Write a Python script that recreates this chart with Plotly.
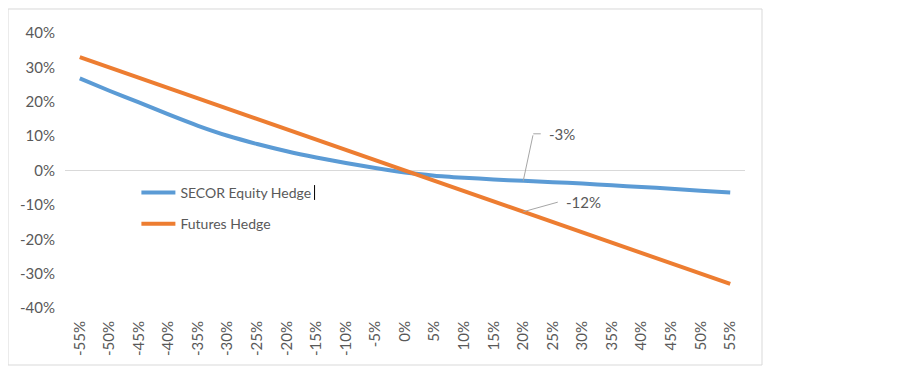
import plotly.graph_objects as go

# Data
market_moves = ["-55%", "-50%", "-45%", "-40%", "-35%", "-30%", "-25%", "-20%",
                "-15%", "-10%", "-5%", "0%", "5%", "10%", "15%", "20%", "25%",
                "30%", "35%", "40%", "45%", "50%", "55%"]
secor_equity_hedge = [0.268, 0.232, 0.198, 0.163, 0.130, 0.101, 0.077, 0.056,
                      0.038, 0.022, 0.007, -0.006, -0.015, -0.021, -0.026, -0.030,
                      -0.034, -0.038, -0.043, -0.048, -0.053, -0.059, -0.064]
futures_hedge = [0.33, 0.30, 0.27, 0.24, 0.21, 0.18, 0.15, 0.12, 0.09, 0.06, 0.03,
                 0.0, -0.03, -0.06, -0.09, -0.12, -0.15, -0.18, -0.21, -0.24,
                 -0.27, -0.30, -0.33]
y_ticks = [0.4, 0.3, 0.2, 0.1, 0.0, -0.1, -0.2, -0.3, -0.4]
y_tick_labels = ["40%", "30%", "20%", "10%", "0%", "-10%", "-20%", "-30%", "-40%"]
label_category = "20%"
label_secor = "-3%"
label_futures = "-12%"

FONT = "Lato"
TXT = "#595959"
BLUE = "#5B9BD5"
ORANGE = "#ED7D31"

fig = go.Figure()
fig.add_trace(go.Scatter(x=market_moves, y=secor_equity_hedge, mode="lines",
                         name="SECOR Equity Hedge", legendgroup="a",
                         line=dict(color=BLUE, width=4, shape="spline", smoothing=0.6)))
fig.add_trace(go.Scatter(x=market_moves, y=futures_hedge, mode="lines",
                         name="Futures Hedge", legendgroup="b",
                         line=dict(color=ORANGE, width=4)))

idx = market_moves.index(label_category)
pts = [(secor_equity_hedge[idx], label_secor, 10, -47, 9),
       (futures_hedge[idx], label_futures, 36, -10, 0)]
for yv, txt, ax, ay, hor in pts:
    # slanted leader
    fig.add_annotation(x=label_category, y=yv, text="", showarrow=True, arrowhead=0,
                       arrowwidth=1, arrowcolor="#A6A6A6", ax=ax, ay=ay, standoff=0)
    # horizontal part
    if hor:
        fig.add_annotation(x=label_category, y=yv, text="", showarrow=True, arrowhead=0,
                           arrowwidth=1, arrowcolor="#A6A6A6", xshift=ax, yshift=-ay,
                           ax=hor, ay=0, standoff=0)
    fig.add_annotation(x=label_category, y=yv, text=txt, showarrow=False,
                       xanchor="left", yanchor="middle",
                       xshift=ax + hor + 5, yshift=-ay,
                       font=dict(family=FONT, size=15, color=TXT))

# chart frame
fig.add_shape(type="rect", xref="paper", yref="paper", x0=-0.0838, x1=1.025,
              y0=-0.2073, y1=1.0873, line=dict(color="#D9D9D9", width=1), layer="below")
# stray text cursor after legend entry
fig.add_shape(type="line", xref="paper", yref="paper", x0=0.367, x1=0.367,
              y0=0.393, y1=0.447, line=dict(color="#000000", width=1))

fig.update_layout(
    width=900, height=373,
    margin=dict(l=57, r=163, t=25, b=73),
    paper_bgcolor="white", plot_bgcolor="white",
    font=dict(family=FONT, size=15, color=TXT),
    showlegend=True,
    legend=dict(x=0.105, y=0.477, xanchor="left", yanchor="top",
                bgcolor="rgba(0,0,0,0)", font=dict(family=FONT, size=14, color=TXT),
                tracegroupgap=10, itemwidth=34),
)
fig.update_xaxes(type="category", range=[-0.5, len(market_moves) - 0.5],
                 showgrid=False, showline=False, zeroline=False,
                 tickangle=-90, ticks="", ticklabelstandoff=9,
                 tickfont=dict(family=FONT, size=15, color=TXT))
fig.update_yaxes(range=[-0.4, 0.4], tickvals=y_ticks, ticktext=y_tick_labels,
                 showgrid=False, zeroline=True, zerolinecolor="#D9D9D9", zerolinewidth=1,
                 showline=False, ticks="", ticklabelstandoff=9,
                 tickfont=dict(family=FONT, size=15, color=TXT))

fig.write_html("out.html")
